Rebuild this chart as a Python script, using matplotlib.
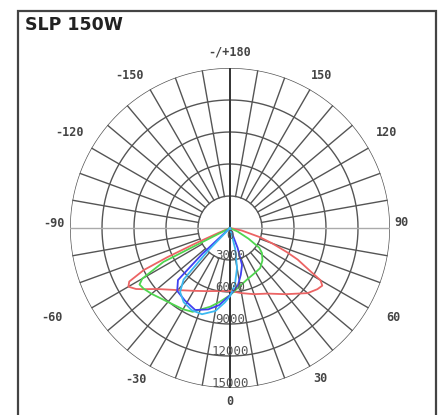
import numpy as np
import matplotlib.pyplot as plt
from matplotlib.patches import Rectangle

# intensity (cd) vs angle (deg, 0 = straight down, + to the right)
red_ang = [-70, -67, -66, -65, -64, -62, -60, -57, -55, -50, -40, -30, -20, -10, 0,
           10, 20, 30, 40, 50, 55, 58, 60, 62, 65, 67, 70, 73, 78, 85]
red_cd = [0, 1200, 3500, 6500, 9000, 10700, 11000, 10500, 10000, 8900, 7600, 6800, 6300, 6000, 5900,
          6200, 6600, 7100, 8100, 9500, 10000, 10200, 9800, 8400, 7000, 5800, 4200, 2900, 1100, 0]

green_ang = [-66, -63, -60, -58, -55, -50, -40, -30, -24, -14, -8, 0, 10, 18, 30, 37, 45, 52, 56, 60, 65, 70]
green_cd = [0, 7000, 9500, 10000, 9900, 9600, 9050, 8800, 8600, 7600, 7000, 6300, 5500, 5100, 4800, 4700,
            4300, 3800, 3300, 2000, 800, 0]

blue_ang = [-50, -47, -45, -40, -32, -23, -15, -8, 0, 8, 13, 18, 21, 24]
blue_cd = [0, 3500, 6900, 7700, 8000, 8350, 7900, 7300, 6300, 5400, 4500, 3650, 2000, 0]

cyan_ang = [-47, -44, -42, -38, -32, -25, -18, -10, -4, 0, 5, 10, 14, 18]
cyan_cd = [0, 3000, 6500, 7600, 8200, 8500, 8500, 7900, 7000, 6400, 5300, 3800, 2000, 0]

rings = [3000, 6000, 9000, 12000, 15000]
ring_labels = ['3000', '6000', '9000', '12000', '15000']

angle_labels = ['0', '30', '-30', '60', '-60', '90', '-90', '120', '-120', '150', '-150', '-/+180']
label_theta = [0, 30.8, -31.9, 61.1, -63.2, 91.7, -91.6, 121.2, -120.7, 148.8, -146.4, 180]
label_r = [16220, 16480, 16680, 17450, 18700, 16130, 16500, 17200, 17450, 16660, 17110, 16500]

fig = plt.figure(figsize=(4.4, 4.15), dpi=100)
ax = fig.add_axes([70 / 440, 27 / 415, 320 / 440, 320 / 415], projection='polar')
ax.set_theta_zero_location('S')
ax.set_theta_direction(1)
ax.set_ylim(0, 15000)
ax.grid(False)
ax.set_xticks([])
ax.set_yticks([])
ax.spines['polar'].set_visible(False)
ax.patch.set_alpha(0)

# grid: circles + radial lines
full = np.linspace(0, 2 * np.pi, 721)
for r in rings:
    ax.plot(full, np.full_like(full, r), color='#555555', lw=1.0, zorder=1)
for a in range(0, 360, 10):
    if a % 90 == 0:
        continue
    t = np.radians(a)
    ax.plot([t, t], [rings[0], rings[-1]], color='#555555', lw=1.0, zorder=1)
ax.plot([0, 0], [0, 15000], color='#333333', lw=1.4, zorder=1)
ax.plot([np.pi, np.pi], [0, 15000], color='#333333', lw=1.4, zorder=1)
ax.plot([np.pi / 2, np.pi / 2], [0, 15000], color='#aaaaaa', lw=1.0, zorder=1)
ax.plot([-np.pi / 2, -np.pi / 2], [0, 15000], color='#aaaaaa', lw=1.0, zorder=1)

# curves
for ang, cd, c in [(red_ang, red_cd, '#ec6464'), (green_ang, green_cd, '#4fd64f'),
                   (blue_ang, blue_cd, '#4040f0'), (cyan_ang, cyan_cd, '#3cb8f0')]:
    ax.plot(np.radians(ang), cd, color=c, lw=1.3, zorder=3)

# labels
ring_txt = dict(family='DejaVu Sans Mono', fontsize=9, color='#555555',
                ha='center', va='center', clip_on=False)
ax.text(0, 0 + 700, '0', zorder=4, **ring_txt)
for r, s in zip(rings, ring_labels):
    ax.text(0, r - 400, s, zorder=4, **ring_txt)
ang_txt = dict(family='DejaVu Sans Mono', fontsize=8.5, color='#444444', weight='bold',
               ha='center', va='center', clip_on=False)
for s, t, r in zip(angle_labels, label_theta, label_r):
    ax.text(np.radians(t), r, s, **ang_txt)

fig.text(25 / 440, 1 - 25 / 415, 'SLP 150W', fontsize=12.5, weight='bold',
         family='DejaVu Sans', color='#222222', ha='left', va='center')

fig.add_artist(Rectangle((18 / 440, -0.05), (436 - 18) / 440, 1.05 - 11 / 415,
                         transform=fig.transFigure, fill=False, lw=1.6, ec='#444444'))

fig.savefig('out.png', dpi=100)
